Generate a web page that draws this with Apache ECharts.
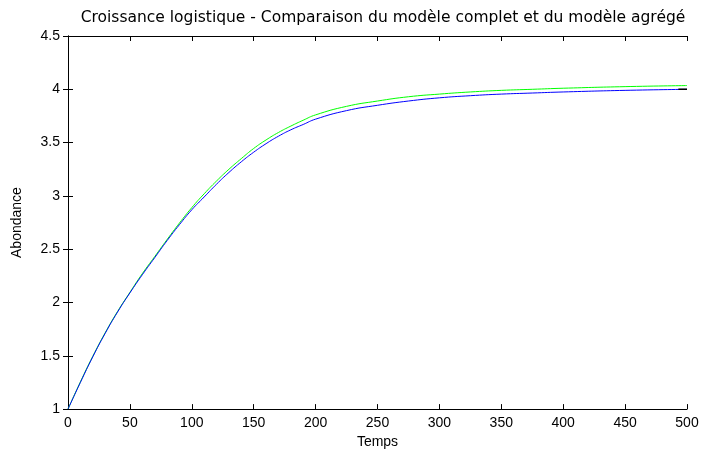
<!DOCTYPE html>
<html>
<head>
<meta charset="utf-8">
<script src="https://cdn.jsdelivr.net/npm/echarts@6/dist/echarts.min.js"></script>
<style>html,body{margin:0;padding:0;background:#fff}#c{width:702px;height:454px}</style>
</head>
<body>
<div id="c"></div>
<script>
var titleText = 'Croissance logistique - Comparaison du modèle complet et du modèle agrégé';
var xName = 'Temps';
var yName = 'Abondance';
var times = [0,10,20,30,40,50,60,70,80,90,100,110,120,130,140,150,160,170,180,190,200,225,250,275,300,325,350,375,400,450,500];
var blueVals = [1.00,1.25,1.49,1.71,1.91,2.09,2.26,2.42,2.58,2.73,2.87,2.99,3.11,3.22,3.32,3.41,3.49,3.56,3.62,3.67,3.72,3.80,3.85,3.89,3.92,3.94,3.955,3.965,3.975,3.99,4.00];
var greenVals = [1.00,1.255,1.495,1.715,1.915,2.095,2.27,2.43,2.59,2.745,2.89,3.02,3.14,3.25,3.35,3.445,3.525,3.595,3.655,3.71,3.76,3.84,3.89,3.93,3.955,3.975,3.99,4.00,4.01,4.025,4.035];
var blackTimes = [493,500];
var blackVals = [4.0,4.0];

function pairs(xs, ys){ return xs.map(function(x,i){return [x, ys[i]];}); }

var font = 'Liberation Sans';
var chart = echarts.init(document.getElementById('c'));
var axisCommon = {
  axisLine:{show:true, lineStyle:{color:'#000', width:1}},
  axisTick:{show:true, inside:true, length:5, lineStyle:{color:'#000'}},
  splitLine:{show:false}
};
chart.setOption({
  animation:false,
  backgroundColor:'#fff',
  title:{text:titleText, left:378, top:5, textAlign:'center',
    textStyle:{fontFamily:'DejaVu Sans', fontSize:15.5, fontWeight:'normal', color:'#000'}},
  grid:{left:68, right:15, top:36, bottom:37, containLabel:false},
  xAxis:[
    Object.assign({type:'value', min:0, max:500, interval:50, position:'bottom',
      name:xName, nameLocation:'middle', nameGap:24,
      nameTextStyle:{fontFamily:font, fontSize:14, color:'#000'},
      axisLabel:{fontFamily:font, fontSize:14, color:'#000', margin:7}}, axisCommon),
    Object.assign({type:'value', min:0, max:500, interval:50, position:'top',
      axisLabel:{show:false}}, axisCommon)
  ],
  yAxis:[
    Object.assign({type:'value', min:1, max:4.5, interval:0.5, position:'left',
      name:yName, nameLocation:'middle', nameGap:44,
      nameTextStyle:{fontFamily:font, fontSize:14, color:'#000'},
      axisLabel:{fontFamily:font, fontSize:14, color:'#000', margin:8}}, axisCommon),
    Object.assign({type:'value', min:1, max:4.5, interval:0.5, position:'right',
      axisLabel:{show:false}}, axisCommon)
  ],
  series:[
    {type:'line', data:pairs(times, greenVals), smooth:true, showSymbol:false, symbol:'none',
      lineStyle:{color:'#00ff00', width:1}, z:2},
    {type:'line', data:pairs(times, blueVals), smooth:true, showSymbol:false, symbol:'none',
      lineStyle:{color:'#0000ff', width:1}, z:3},
    {type:'line', data:pairs(blackTimes, blackVals), showSymbol:false, symbol:'none',
      lineStyle:{color:'#000', width:1.5}, z:4}
  ]
});
</script>
</body>
</html>
